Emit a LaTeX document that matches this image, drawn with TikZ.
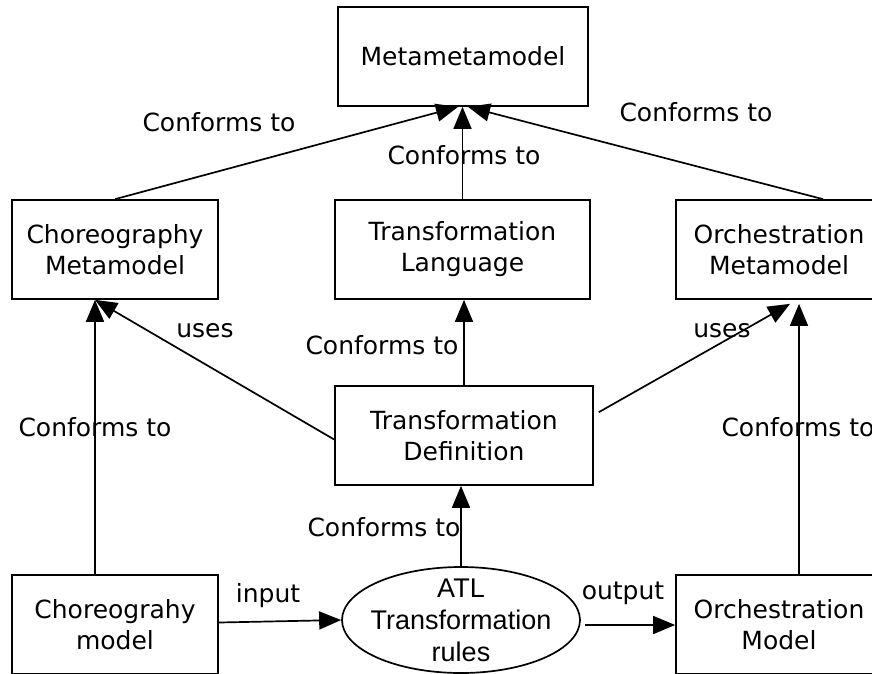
\documentclass[tikz,border=0pt]{standalone}
\usepackage{fontspec}
\setmainfont{DejaVu Sans}
\newfontfamily\arialfont{Liberation Sans}
\usetikzlibrary{shapes.geometric,arrows.meta,calc}

\begin{document}
\begin{tikzpicture}[x=1pt,y=-1pt,
  box/.style={draw,line width=1.7pt,minimum height=99pt,inner sep=0pt,
    align=center,font=\fontsize{25}{31}\selectfont},
  lbl/.style={inner sep=0pt,font=\fontsize{25}{28}\selectfont,
    text height=18pt,text depth=0pt},
  link/.style={line width=1.7pt,-{Triangle[length=22pt,width=18pt]}}]
\useasboundingbox (0,0) rectangle (872,673);

% model layers
\node[box,minimum width=250pt] (mm)   at (463,56.5)  {Metametamodel};
\node[box,minimum width=206pt] (cm)   at (115,249.5) {Choreography\\Metamodel};
\node[box,minimum width=255pt] (tl)   at (462.5,249.5) {Transformation\\Language};
\node[box,minimum width=206pt] (om)   at (779,249.5) {Orchestration\\Metamodel};
\node[box,minimum width=258pt] (td)   at (464,435.5) {Transformation\\Definition};
\node[box,minimum width=206pt] (cmod) at (115,624.5) {Choreograhy\\model};
\node[box,minimum width=206pt] (omod) at (779,624.5) {Orchestration\\Model};
\node[draw,ellipse,line width=1.7pt,minimum width=238pt,minimum height=106pt,
  inner xsep=-12pt,inner ysep=-14pt,align=center,
  font=\arialfont\fontsize{27}{32}\selectfont]
  (atl) at (461,620) {ATL\\Transformation\\rules};

% connectors
\draw[link] (cm.north) -- ($(mm.south)+(-5,0)$);
\draw[link] ($(om.north)+(44,0)$) -- ($(mm.south)+(5,0)$);
\draw[link] (tl.north) -- (tl.north |- mm.south);
\draw[link] (td.north) -- (td.north |- tl.south);
\draw[link] ($(td.west)+(0,4)$) -- ($(cm.south)+(-20,0)$);
\draw[link] ($(td.north east)+(5,27)$) -- ($(om.south)+(11,4)$);
\draw[link] ($(cmod.north)+(-20,0)$) -- ($(cm.south)+(-20,0)$);
\draw[link] ($(omod.north)+(20,0)$) -- ($(om.south)+(20,4)$);
\draw[link] (atl.north) -- (atl.north |- td.south);
\draw[link] ($(cmod.east)+(0,-2)$) -- (atl.west);
\draw[link] ($(atl.east)+(4,5)$) -- ($(omod.west)+(0,0.5)$);

% connector labels
\node[lbl] (c1) at (219,122) {Conforms to};
\node[lbl] (c2) at (696,112) {Conforms to};
\node[lbl] (c3) at (464,155) {Conforms to};
\node[lbl] (u1) at (205,328) {uses};
\node[lbl] (c4) at (382,345) {Conforms to};
\node[lbl] (u2) at (722,328) {uses};
\node[lbl] (c5) at (95,427)  {Conforms to};
\node[lbl] (c6) at (798,427) {Conforms to};
\node[lbl] (c7) at (384,527) {Conforms to};
\node[lbl] (i1) at (268,593) {input};
\node[lbl] (o1) at (623,590) {output};
\end{tikzpicture}
\end{document}
